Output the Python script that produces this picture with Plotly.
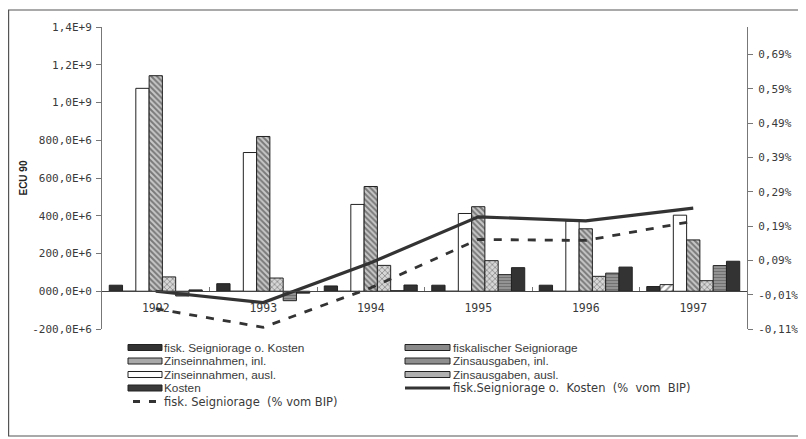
import plotly.graph_objects as go

# ---------------- data ----------------
years = ["1992", "1993", "1994", "1995", "1996", "1997"]

kosten = [32e6, 40e6, 28e6, 32e6, 32e6, 25e6]
zinsausgaben_ausl = [0, 0, 0, 0, 0, 35e6]
zinseinnahmen_ausl = [1.075e9, 735e6, 460e6, 412e6, 372e6, 403e6]
zinsausgaben_inl = [1.142e9, 820e6, 555e6, 448e6, 331e6, 272e6]
zinseinnahmen_inl = [76e6, 70e6, 137e6, 162e6, 79e6, 56e6]
fiskalischer_seigniorage = [-25e6, -50e6, 3e6, 88e6, 96e6, 136e6]
fisk_seign_o_kosten = [7e6, -10e6, 33e6, 125e6, 128e6, 159e6]

# percent of GDP (right axis, in %)
fisk_o_kosten_pct = [0.000, -0.033, 0.083, 0.217, 0.205, 0.242]
fisk_seign_pct = [-0.051, -0.105, 0.010, 0.151, 0.148, 0.204]

left_tickvals = [-2e8, 0, 2e8, 4e8, 6e8, 8e8, 1e9, 1.2e9, 1.4e9]
left_ticktext = ["-200,0E+6", "000,0E+0", "200,0E+6", "400,0E+6", "600,0E+6",
                 "800,0E+6", "1,0E+9", "1,2E+9", "1,4E+9"]
right_tickvals = [-0.11, -0.01, 0.09, 0.19, 0.29, 0.39, 0.49, 0.59, 0.69]
right_ticktext = ["-0,11%", "-0,01%", "0,09%", "0,19%", "0,29%", "0,39%",
                  "0,49%", "0,59%", "0,69%"]

# ---------------- layout constants ----------------
# The page body has an 8px margin, so the figure starts at page (8, 8).
OFF = 8
W, H = 806 - OFF, 439 - OFF
# plot area in page pixels: x 102..747, y 27..329
PL, PR, PT, PB = 102, 747, 27, 329
L, T = PL - OFF, PT - OFF
R, B = W - (PR - OFF), H - (PB - OFF)
PW, PH = W - L - R, H - T - B


def px_x(px):   # page px -> paper x
    return (px - OFF - L) / PW


def px_y(py):   # page px -> paper y
    return (H - B - (py - OFF)) / PH


DARK = "#2f2f2f"
EDGE = "#222222"
TXT = "#3a3a3a"
TICKFONT = dict(family="DejaVu Sans Mono, DejaVu Sans, monospace", size=11, color=TXT)

fig = go.Figure()

# bars, in the order they stand inside each year group
bar_specs = [
    ("Kosten", kosten, dict(color=DARK)),
    ("Zinsausgaben, ausl.", zinsausgaben_ausl,
     dict(color="white", pattern=dict(shape="/", size=5, solidity=0.35, fgcolor="#333", bgcolor="white"))),
    ("Zinseinnahmen, ausl.", zinseinnahmen_ausl, dict(color="white")),
    ("Zinsausgaben, inl.", zinsausgaben_inl,
     dict(color="#bbb", pattern=dict(shape="\\", size=4, solidity=0.5, fgcolor="#2a2a2a", bgcolor="#c8c8c8"))),
    ("Zinseinnahmen, inl.", zinseinnahmen_inl,
     dict(color="#ccc", pattern=dict(shape="x", size=4, solidity=0.35, fgcolor="#333", bgcolor="#d6d6d6"))),
    ("fiskalischer Seigniorage", fiskalischer_seigniorage,
     dict(color="#888", pattern=dict(shape="-", size=3, solidity=0.45, fgcolor="#4a4a4a", bgcolor="#999"))),
    ("fisk. Seigniorage o. Kosten", fisk_seign_o_kosten, dict(color="#333")),
]

for name, vals, mk in bar_specs:
    marker = dict(mk)
    marker["line"] = dict(color=EDGE, width=1)
    fig.add_trace(go.Bar(x=years, y=vals, name=name, marker=marker,
                         xaxis="x", yaxis="y"))

fig.add_trace(go.Scatter(x=years, y=fisk_o_kosten_pct, mode="lines",
                         name="fisk.Seigniorage o. Kosten (% vom BIP)",
                         line=dict(color="#333", width=3.2), xaxis="x", yaxis="y2"))
fig.add_trace(go.Scatter(x=years, y=fisk_seign_pct, mode="lines",
                         name="fisk. Seigniorage  (% vom BIP)",
                         line=dict(color="#333", width=2.8, dash="8px,9px"), xaxis="x", yaxis="y2"))

# ---------------- legend (drawn as swatches + text, two columns) ----------------
legend_rows = [347.5, 361, 374.5, 388, 401.5]
NB = "\u00a0"
legend_entries = [
    # (column, row, text, kind, fill)
    (0, 0, "fisk. Seigniorage o. Kosten", "box", "#333333"),
    (1, 0, "fiskalischer Seigniorage", "box", "#8a8a8a"),
    (0, 1, "Zinseinnahmen, inl.", "box", "#a9a9a9"),
    (1, 1, "Zinsausgaben, inl.", "box", "#8e8e8e"),
    (0, 2, "Zinseinnahmen, ausl.", "box", "#ffffff"),
    (1, 2, "Zinsausgaben, ausl.", "box", "#b0b0b0"),
    (0, 3, "Kosten", "box", "#3a3a3a"),
    (1, 3, "fisk.Seigniorage o." + NB + " Kosten " + NB + "(%" + NB + " vom" + NB + " BIP)", "line", None),
    (0, 4, "fisk. Seigniorage " + NB + "(% vom BIP)", "dash", None),
]
col_sw = {0: (128, 162), 1: (405, 450)}
col_tx = {0: 163, 1: 452}

shapes = [dict(type="rect", xref="paper", yref="paper",
               x0=px_x(8.6), x1=px_x(799.5), y0=px_y(436), y1=px_y(10),
               line=dict(color="#555", width=1.2), fillcolor="rgba(0,0,0,0)", layer="below")]
annotations = []
for col, row, text, kind, fill in legend_entries:
    yc = legend_rows[row]
    sx0, sx1 = col_sw[col]
    if kind == "box":
        shapes.append(dict(type="rect", xref="paper", yref="paper",
                           x0=px_x(sx0), x1=px_x(sx1), y0=px_y(yc + 3), y1=px_y(yc - 3),
                           fillcolor=fill, line=dict(color="#222", width=1)))
        fam, fs = "Liberation Sans, Arial, sans-serif", 11.8
    elif kind == "line":
        shapes.append(dict(type="line", xref="paper", yref="paper",
                           x0=px_x(sx0), x1=px_x(sx1), y0=px_y(yc), y1=px_y(yc),
                           line=dict(color="#333", width=3)))
        fam, fs = "DejaVu Sans, sans-serif", 11.5
    else:
        shapes.append(dict(type="line", xref="paper", yref="paper",
                           x0=px_x(133), x1=px_x(160), y0=px_y(yc), y1=px_y(yc),
                           line=dict(color="#333", width=2.8, dash="7px,9px")))
        fam, fs = "DejaVu Sans, sans-serif", 11.5
    annotations.append(dict(xref="paper", yref="paper", x=px_x(col_tx[col]), y=px_y(yc),
                            xanchor="left", yanchor="middle", showarrow=False, text=text,
                            font=dict(family=fam, size=fs, color=TXT), borderpad=0))

fig.update_layout(
    width=W, height=H,
    margin=dict(l=L, r=R, t=T, b=B, autoexpand=False),
    paper_bgcolor="white", plot_bgcolor="white",
    barmode="group", bargap=0.135, bargroupgap=0,
    font=dict(family="DejaVu Sans", size=11, color=TXT),
    showlegend=False,
    xaxis=dict(type="category", anchor="free", position=0.125, domain=[0, 1],
               showline=True, linecolor="#444", linewidth=1.2,
               ticks="inside", ticklen=4, tickcolor="#777", tickson="boundaries",
               tickfont=dict(family="DejaVu Sans Mono, DejaVu Sans, monospace", size=11.5, color=TXT),
               ticklabelstandoff=6, automargin=False,
               showgrid=False, zeroline=False),
    yaxis=dict(range=[-2e8, 1.4e9], domain=[0, 1], tickvals=left_tickvals, ticktext=left_ticktext,
               showline=True, linecolor="#777", linewidth=1, ticks="outside", ticklen=5,
               tickcolor="#777", showgrid=False, zeroline=False, tickfont=TICKFONT,
               ticklabelstandoff=2, automargin=False,
               title=dict(text="<b>ECU 90</b>", font=dict(family="Liberation Sans", size=10, color="#222"),
                          standoff=2)),
    yaxis2=dict(range=[-0.11, 0.77], overlaying="y", side="right", anchor="x",
                tickvals=right_tickvals, ticktext=right_ticktext,
                showline=True, linecolor="#777", linewidth=1, ticks="outside", ticklen=5,
                tickcolor="#777", showgrid=False, zeroline=False, tickfont=TICKFONT,
                ticklabelstandoff=3, automargin=False),
    shapes=shapes,
    annotations=annotations,
)

fig.write_html("out.html")
